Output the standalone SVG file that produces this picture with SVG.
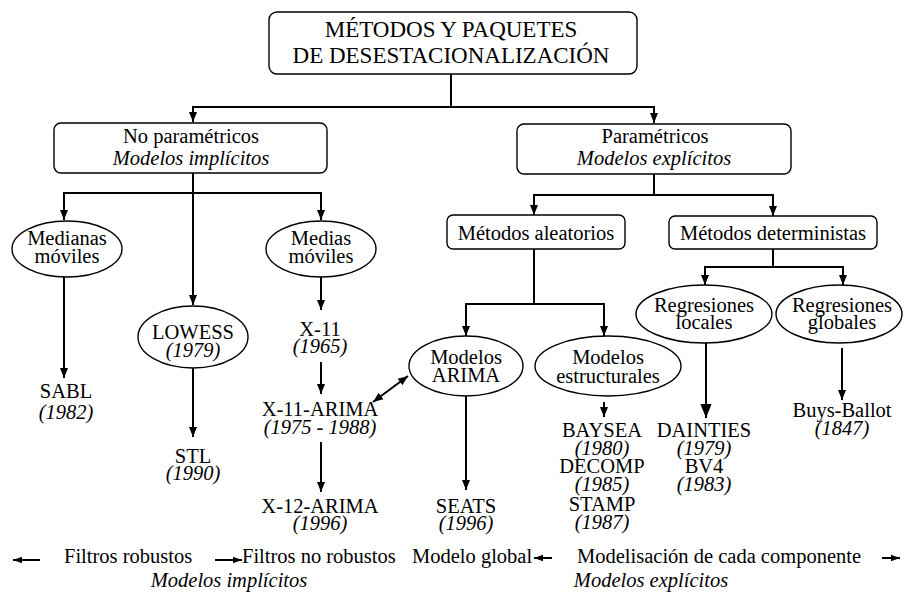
<svg xmlns="http://www.w3.org/2000/svg" width="904" height="599" viewBox="0 0 904 599">
<style>
text{font-family:"Liberation Serif","Times New Roman",serif;font-size:20.5px;fill:#000;text-anchor:middle}
.t{font-size:23px}
.i{font-style:italic}
.s{text-anchor:start}
.box{fill:#fff;stroke:#000;stroke-width:1.4}
.ell{fill:#fff;stroke:#000;stroke-width:1.4}
.c path{fill:none;stroke:#000;stroke-width:2}
</style>
<defs>
<marker id="ah" viewBox="0 0 10 10" refX="10" refY="5" markerWidth="10" markerHeight="10" markerUnits="userSpaceOnUse" orient="auto-start-reverse"><path d="M0,1 L10,5 L0,9 z" fill="#000"/></marker>
<marker id="big" viewBox="0 0 10 10" refX="10" refY="5" markerWidth="14" markerHeight="14" markerUnits="userSpaceOnUse" orient="auto-start-reverse"><path d="M0,1 L10,5 L0,9 z" fill="#000"/></marker>
<marker id="sm" viewBox="0 0 10 10" refX="10" refY="5" markerWidth="9" markerHeight="9" markerUnits="userSpaceOnUse" orient="auto-start-reverse"><path d="M0,1.5 L10,5 L0,8.5 z" fill="#000"/></marker>
</defs>
<rect width="904" height="599" fill="#fff"/>
<g class="c" id="connectors">
<path d="M451,74 V107"/>
<path d="M193,122 V107 H654 V123" marker-start="url(#ah)" marker-end="url(#ah)"/>
<path d="M193,173 V193"/>
<path d="M64,220 V193 H321 V220" marker-start="url(#ah)" marker-end="url(#ah)"/>
<path d="M193,193 V305" marker-end="url(#ah)"/>
<path d="M64,277 V378" marker-end="url(#ah)"/>
<path d="M193,368 V437" marker-end="url(#ah)"/>
<path d="M321,277 V310" marker-end="url(#ah)"/>
<path d="M321,362 V394" marker-end="url(#ah)"/>
<path d="M321,442 V492" marker-end="url(#ah)"/>
<path d="M373,402 L408,376" marker-start="url(#ah)" marker-end="url(#ah)"/>
<path d="M654,174 V195"/>
<path d="M534,215 V195 H773 V216" marker-start="url(#ah)" marker-end="url(#ah)"/>
<path d="M534,249 V304"/>
<path d="M466,336 V304 H604 V336" marker-start="url(#ah)" marker-end="url(#ah)"/>
<path d="M773,249 V267"/>
<path d="M705,285 V267 H843 V285" marker-start="url(#ah)" marker-end="url(#ah)"/>
<path d="M466,396 V490" marker-end="url(#ah)"/>
<path d="M604,402 V417" marker-end="url(#ah)"/>
<path d="M706,343 V418" marker-end="url(#big)"/>
<path d="M842,348 V400" stroke-width="3" marker-end="url(#ah)"/>
</g>
<g id="title"><rect class="box" x="269" y="12" width="368" height="62" rx="8"/><text class="t" x="451" y="37">MÉTODOS Y PAQUETES</text><text class="t" x="451" y="63">DE DESESTACIONALIZACIÓN</text></g>
<g id="noparam"><rect class="box" x="54" y="123" width="273" height="50" rx="7"/><text x="191" y="143">No paramétricos</text><text class="i" x="191" y="165">Modelos implícitos</text></g>
<g id="param"><rect class="box" x="517" y="124" width="274" height="50" rx="7"/><text x="655" y="143">Paramétricos</text><text class="i" x="654" y="165">Modelos explícitos</text></g>
<g id="medianas"><ellipse class="ell" cx="67" cy="249" rx="55" ry="28"/><text x="67" y="245">Medianas</text><text x="67" y="263">móviles</text></g>
<g id="medias"><ellipse class="ell" cx="321" cy="249" rx="55" ry="28"/><text x="321" y="245">Medias</text><text x="321" y="263">móviles</text></g>
<g id="lowess"><ellipse class="ell" cx="193" cy="337" rx="55" ry="31"/><text x="193" y="339">LOWESS</text><text class="i" x="193" y="357">(1979)</text></g>
<g id="sabl"><text x="66" y="398">SABL</text><text class="i" x="66" y="419">(1982)</text></g>
<g id="stl"><text x="193" y="463">STL</text><text class="i" x="193" y="480">(1990)</text></g>
<g id="x11"><text x="320" y="336">X-11</text><text class="i" x="320" y="353">(1965)</text></g>
<g id="x11arima"><text x="320" y="416">X-11-ARIMA</text><text class="i" x="320" y="434">(1975 - 1988)</text></g>
<g id="x12arima"><text x="320" y="513">X-12-ARIMA</text><text class="i" x="320" y="530">(1996)</text></g>
<g id="aleatorios"><rect class="box" x="447" y="215" width="178" height="34" rx="6"/><text x="536" y="240">Métodos aleatorios</text></g>
<g id="deterministas"><rect class="box" x="669" y="216" width="208" height="33" rx="6"/><text x="773" y="240">Métodos deterministas</text></g>
<g id="arima"><ellipse class="ell" cx="466" cy="366" rx="57" ry="30"/><text x="466" y="364">Modelos</text><text x="466" y="382">ARIMA</text></g>
<g id="estructurales"><ellipse class="ell" cx="608" cy="366" rx="73" ry="30"/><text x="608" y="364">Modelos</text><text x="608" y="383">estructurales</text></g>
<g id="seats"><text x="466" y="513">SEATS</text><text class="i" x="466" y="530">(1996)</text></g>
<g id="baysea"><text x="602" y="437">BAYSEA</text><text class="i" x="602" y="455">(1980)</text></g>
<g id="decomp"><text x="602" y="473">DECOMP</text><text class="i" x="602" y="491">(1985)</text></g>
<g id="stamp"><text x="602" y="511">STAMP</text><text class="i" x="602" y="529">(1987)</text></g>
<g id="locales"><ellipse class="ell" cx="704" cy="314" rx="68" ry="29"/><text x="704" y="312">Regresiones</text><text x="704" y="329">locales</text></g>
<g id="globales"><ellipse class="ell" cx="839" cy="314" rx="63" ry="29"/><text x="842" y="312">Regresiones</text><text x="842" y="329">globales</text></g>
<g id="dainties"><text x="704" y="437">DAINTIES</text><text class="i" x="704" y="455">(1979)</text></g>
<g id="bv4"><text x="704" y="473">BV4</text><text class="i" x="704" y="491">(1983)</text></g>
<g id="buysballot"><text x="842" y="417">Buys-Ballot</text><text class="i" x="842" y="435">(1847)</text></g>
<g id="legend">
<g class="c"><path d="M40,560 H13" stroke-width="1.6" marker-end="url(#sm)"/><path d="M215,560 H242" stroke-width="1.6" marker-end="url(#sm)"/><path d="M552,558 H534" stroke-width="1.6" marker-end="url(#sm)"/><path d="M882,558 H900" stroke-width="1.6" marker-end="url(#sm)"/></g>
<text class="s" x="64" y="563">Filtros robustos</text>
<text class="s" x="242" y="563">Filtros no robustos</text>
<text class="s" x="412" y="563">Modelo global</text>
<text class="s" x="577" y="563">Modelisación de cada componente</text>
<text class="i" x="229" y="587">Modelos implícitos</text>
<text class="i" x="651" y="587">Modelos explícitos</text>
</g>
</svg>
